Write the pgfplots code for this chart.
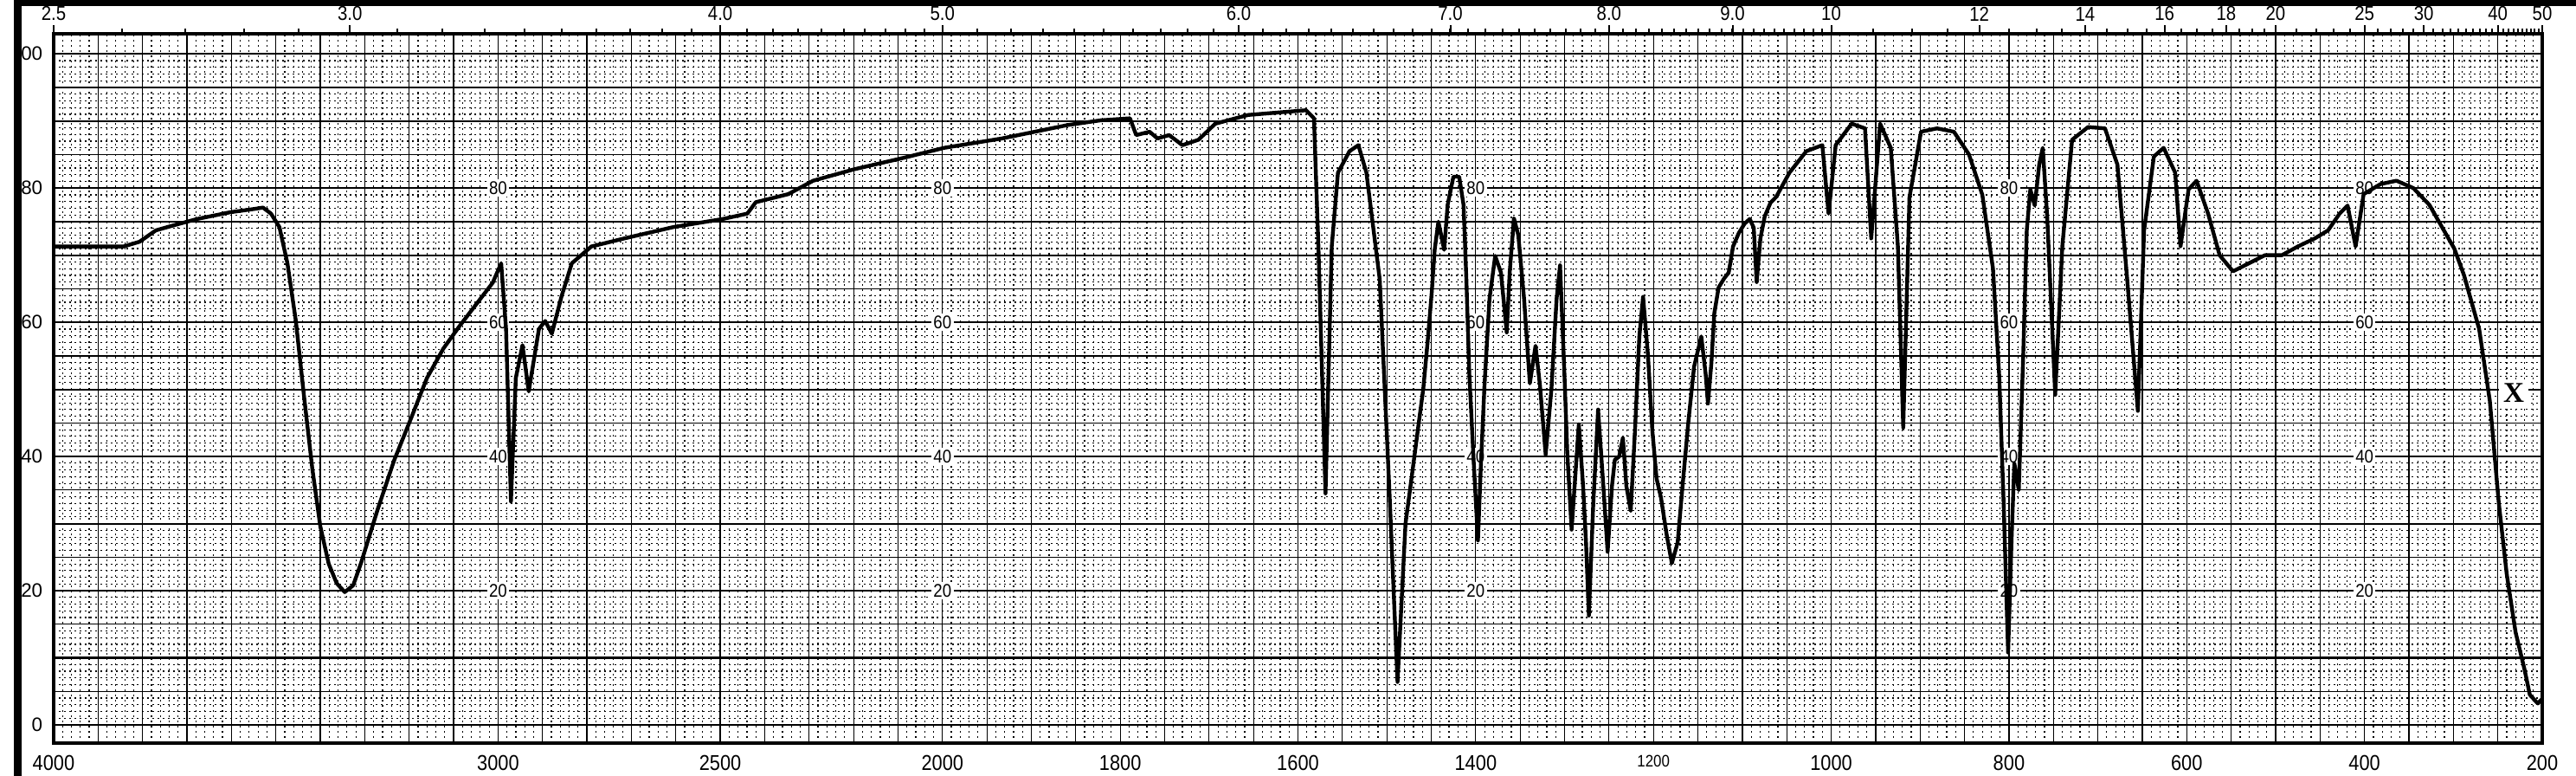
\documentclass[border=0pt]{standalone}
\usepackage{pgfplots}
\pgfplotsset{compat=1.18}
\usepackage{pgfplotstable}
\usepackage{fontspec}
\setmainfont{Liberation Sans}
\newfontfamily\labfont[FakeStretch=0.88]{Liberation Sans}
\newfontfamily\xfont{Liberation Serif}

\pgfplotstableread{
w T
3999 71.3
3843 71.3
3807 72.0
3770 73.7
3733 74.4
3677 75.4
3603 76.4
3548 76.9
3529 77.1
3511 76.2
3492 74.2
3474 68.8
3455 60.2
3437 49.2
3418 38.2
3400 29.6
3381 24.0
3363 21.1
3345 19.8
3326 20.8
3308 24.2
3271 32.1
3234 39.4
3197 45.5
3160 51.7
3123 56.1
3086 59.5
3049 62.7
3012 65.9
2993 68.8
2982 59.0
2971 33.3
2960 51.7
2945 56.6
2931 49.7
2908 59.0
2894 60.2
2879 58.3
2857 63.9
2834 68.8
2790 71.3
2716 72.5
2605 74.2
2494 75.4
2439 76.2
2420 77.9
2347 79.1
2291 81.1
2199 82.8
2088 84.5
1998 86.0
1933 87.4
1859 89.4
1822 90.1
1789 90.4
1782 87.9
1767 88.4
1758 87.4
1745 87.9
1730 86.4
1712 87.2
1693 89.6
1656 90.9
1619 91.3
1591 91.6
1582 90.4
1577 71.3
1569 34.5
1562 71.3
1555 82.3
1542 85.5
1532 86.4
1523 82.3
1508 66.4
1497 34.5
1488 6.4
1479 30.0
1471 38.0
1464 45.1
1459 50.1
1454.3 56.8
1449.4 64.6
1446.2 70.8
1442 75.0
1435.5 70.8
1431.6 77.5
1425.1 81.7
1418.6 81.7
1413.7 77.5
1410.5 66.3
1407.2 52.3
1402.4 39.5
1397.5 27.5
1394.3 38.4
1390.1 50.7
1384.5 63.5
1378.1 69.9
1371.6 67.4
1365.1 58.5
1361.8 67.4
1357.0 75.5
1352.1 73.0
1345.6 63.5
1339.1 50.9
1332.7 56.5
1327.8 50.7
1321.3 40.3
1314.8 50.1
1309.0 63.5
1305.1 68.5
1300.2 52.3
1297.0 40.6
1292.1 29.1
1287.3 38.4
1284.0 44.8
1279.2 35.6
1275.9 27.2
1272.7 16.3
1267.8 32.8
1262.3 47.0
1256.4 35.6
1251.6 25.8
1246.7 35.6
1243.5 39.5
1238.6 40.0
1234.4 42.8
1230.5 35.6
1225.6 31.9
1220.8 43.9
1215.9 57.9
1211.7 63.8
1206.2 55.1
1201.3 43.9
1196.5 36.7
1191.6 33.9
1185.1 28.3
1179.3 24.1
1172.8 27.2
1167.3 35.6
1160.8 45.1
1154.3 53.4
1146.2 57.9
1141.3 52.3
1138.7 47.9
1134.8 54.0
1131.6 61.3
1126.7 65.2
1120.2 66.6
1115.4 67.4
1110.5 71.3
1104.0 73.3
1097.5 74.7
1091.7 75.4
1087.2 74.1
1083.9 66.0
1079.7 72.5
1074.8 75.8
1068.4 77.8
1061.9 78.7
1047 82.3
1028 85.5
1010 86.4
1003 76.2
995 86.4
977 89.6
962 88.9
955 72.5
945 89.6
933 86.0
925 71.3
919 44.3
912 78.6
899 88.4
881 88.9
862 88.4
845 85.0
830 79.0
818 68.0
811 52.0
806 33.0
801 10.8
797 28.0
794 39.0
789 35.0
784 55.0
780 73.7
776 79.8
771 77.4
766 83.5
762 86.0
757 75.7
748 49.2
740 71.3
729 87.2
711 89.1
692 88.9
678 83.5
667 66.4
655 46.8
648 73.7
637 84.7
626 86.0
613 82.3
607 71.3
598 79.8
589 81.1
576 76.2
563 70.0
548 67.6
530 68.8
512 70.0
493 70.0
475 71.3
456 72.5
441 73.7
428 76.2
419 77.4
410 71.3
401 79.1
382 80.6
364 81.1
345 80.0
327 77.5
312 74.0
299 71.0
288 67.0
271 59.0
259 48.3
249 33.2
240 22.5
230 13.8
220 8.3
214 4.5
205 3.2
200 3.9
}\spectrum

\begin{document}
\begin{tikzpicture}
\path[use as bounding box] (-15.5pt,-9.5pt) rectangle (728.5pt,214.5pt);
\pgfplotsset{every axis/.append style={width=718.75pt,height=204.75pt,scale only axis,anchor=south west,at={(0pt,0pt)}}}
% grid axis (chart position units)
\begin{axis}[
  xmin=0,xmax=2800,ymin=-2.7,ymax=103,
  xtick={0,50,...,2800}, minor x tick num=4,
  ytick={0,5,...,100}, minor y tick num=4,
  grid=both, xticklabels={}, yticklabels={},
  major tick length=0pt, minor tick length=0pt,
  axis line style={draw=none},
  major grid style={black, line width=0.3pt},
  minor grid style={black, line width=0.3pt, dash pattern=on 0.4pt off 1.1pt},
  extra y ticks={0,10,...,100}, extra y tick labels={},
  extra y tick style={grid=major, major grid style={black,line width=0.55pt}},
]
\pgfplotsinvokeforeach{500,1000,1600,2200,2600}{
  \node[fill=white,inner sep=0.6pt,font=\labfont\fontsize{5.3}{6}\selectfont] at (axis cs:#1,80) {80};
  \node[fill=white,inner sep=0.6pt,font=\labfont\fontsize{5.3}{6}\selectfont] at (axis cs:#1,60) {60};
  \node[fill=white,inner sep=0.6pt,font=\labfont\fontsize{5.3}{6}\selectfont] at (axis cs:#1,40) {40};
  \node[fill=white,inner sep=0.6pt,font=\labfont\fontsize{5.3}{6}\selectfont] at (axis cs:#1,20) {20};
}
\end{axis}
% data axis (wavenumber)
\begin{axis}[
  x coord trafo/.code={\pgfmathparse{(#1>=2000)?((4000-#1)/2):(3000-#1)}},
  x coord inv trafo/.code={\pgfmathparse{(#1<=1000)?(4000-2*#1):(3000-#1)}},
  xmin=4000,xmax=200,ymin=-2.7,ymax=103,
  xtick={4000,3000,2500,2000,1800,1600,1400,1200,1000,800,600,400,200},
  xticklabels={4000,3000,2500,2000,1800,1600,1400,{\fontsize{4.8}{5}\selectfont 1200},1000,800,600,400,200},
  ytick={0,20,...,100}, yticklabels={0,20,40,60,80,00},
  major tick length=0pt,
  axis line style={black,line width=0.9pt},
  xticklabel style={font=\labfont\fontsize{6.2}{7}\selectfont, inner sep=0pt, anchor=north, yshift=-3.25pt},
  yticklabel style={font=\fontsize{5.6}{6}\selectfont, inner sep=0pt, anchor=east, xshift=-3pt},
]
\addplot[black, line width=1.1pt, line join=round] table[x=w,y=T]{\spectrum};
\node[fill=white,inner sep=1.2pt,font=\xfont\bfseries\fontsize{8.3}{9}\selectfont] at (axis cs:232,49.5) {X};
\end{axis}
% top micrometer axis
\begin{axis}[
  x coord trafo/.code={\pgfmathparse{(#1<=5)?((4000-10000/max(#1,2))/2):(3000-10000/max(#1,2))}},
  x coord inv trafo/.code={\pgfmathparse{(#1<=1000)?(10000/(4000-2*min(#1,1000))):(10000/(3000-min(max(#1,1000),2900)))}},
  xmin=2.5,xmax=50,ymin=0,ymax=1,
  axis x line*=top, axis y line=none,
  xtick={2.5,3,4,5,6,7,8,9,10,12,14,16,18,20,25,30,40,50},
  xticklabels={2.5,3.0,4.0,5.0,6.0,7.0,8.0,9.0,10,12,14,16,18,20,25,30,40,50},
  minor xtick={2.6,2.7,...,9.9,10.5,11,...,19.5,21,22,...,49},
  tick align=outside, major tick length=2.5pt, minor tick length=1.4pt,
  every tick/.style={black,line width=0.5pt},
  axis line style={black,line width=0.9pt},
  xticklabel style={font=\labfont\fontsize{5.8}{6}\selectfont, inner sep=0pt, anchor=south, yshift=1pt},
]
\node[font=\labfont\fontsize{5.3}{6}\selectfont, anchor=south, inner sep=0pt] at ([yshift=3.5pt]rel axis cs:0.4146,1) {MICROMETERS};
\end{axis}
\fill[black] (-11.5pt,-9.5pt) rectangle (-9.25pt,214.5pt);
\fill[black] (-11.5pt,212.75pt) rectangle (728.5pt,214.5pt);
\end{tikzpicture}
\end{document}
